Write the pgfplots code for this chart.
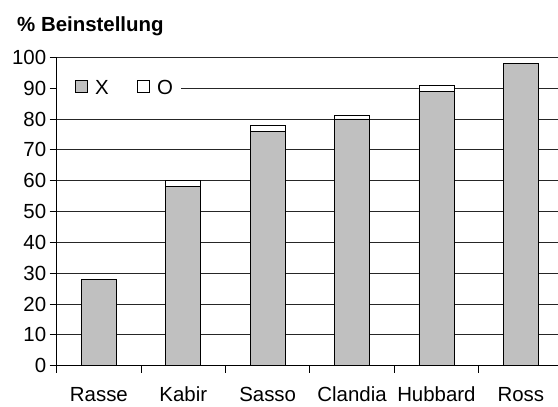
\documentclass[border=0pt]{standalone}
\usepackage{pgfplots}
\pgfplotsset{compat=1.18}
\usepackage{fontspec}
\setmainfont{Liberation Sans}
\definecolor{barX}{RGB}{192,192,192}

\begin{document}
\begin{tikzpicture}
\useasboundingbox (-56.7bp,-41.3bp) rectangle (501.3bp,365.7bp);
\clip (-56.7bp,-41.3bp) rectangle (501.3bp,365.7bp);
\begin{axis}[
    at={(0,0)}, anchor=south west,
    scale only axis,
    width=506.3bp, height=308.4bp,
    ybar stacked, bar width=35bp,
    xmin=-0.5, xmax=5.5, ymin=0, ymax=100,
    xtick={0,1,2,3,4,5},
    xticklabels={Rasse, Kabir, Sasso, Clandia, Hubbard, Ross},
    minor xtick={-0.5,0.5,1.5,2.5,3.5,4.5,5.5},
    ytick={0,10,...,100},
    axis lines*=left,
    axis line style={-, black, line width=0.8bp},
    tick align=outside,
    major tick length=7bp, minor tick length=7bp,
    major x tick style={draw=none},
    tick style={black, line width=0.8bp},
    ymajorgrids,
    grid style={black!85, line width=0.8bp},
    tick label style={font=\fontsize{20.5}{23}\selectfont},
    /pgf/number format/assume math mode=true,
    xticklabel style={text height=15bp, text depth=0bp, inner ysep=0bp, yshift=-14bp},
    title={\bfseries\% Beinstellung},
    title style={at={(0,1)}, anchor=base west, xshift=-43bp, yshift=20bp,
        font=\fontsize{20.5}{23}\selectfont},
    legend style={at={(0,0.9)}, anchor=west, draw=none, fill=white,
        font=\fontsize{20.5}{23}\selectfont, legend columns=2,
        inner xsep=6bp, inner ysep=2bp,
        /tikz/every odd column/.append style={column sep=5bp},
        /tikz/every even column/.append style={column sep=14bp}},
    legend image code/.code={\path (0bp,0bp);
        \draw[#1, draw=black, line width=0.8bp] (12bp,-4.5bp) rectangle (24.5bp,8bp);},
]
\addplot[fill=barX, draw=black, line width=0.8bp] coordinates {(0,28) (1,58) (2,76) (3,80) (4,89) (5,98)};
\addlegendentry{X}
\addplot[fill=white, draw=black, line width=0.8bp] coordinates {(0,0) (1,2) (2,2) (3,1) (4,2) (5,0)};
\addlegendentry{O}
\end{axis}
\end{tikzpicture}
\end{document}
